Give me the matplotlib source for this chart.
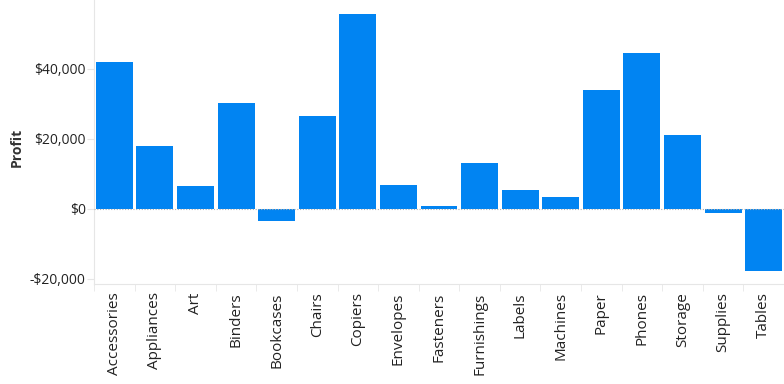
import numpy as np
import matplotlib
matplotlib.use('Agg')
import matplotlib.pyplot as plt
from matplotlib.ticker import FuncFormatter

plt.rcParams['font.family'] = ['Open Sans', 'DejaVu Sans']

# Данные: прибыль по подкатегориям
categories = ['Accessories', 'Appliances', 'Art', 'Binders', 'Bookcases', 'Chairs',
              'Copiers', 'Envelopes', 'Fasteners', 'Furnishings', 'Labels', 'Machines',
              'Paper', 'Phones', 'Storage', 'Supplies', 'Tables']
profit = [41937, 18138, 6528, 30222, -3473, 26590, 55618, 6964, 950, 13059,
          5546, 3385, 34053, 44516, 21279, -1189, -17725]
y_ticks = [-20000, 0, 20000, 40000]

fig = plt.figure(figsize=(7.84, 3.84), dpi=100)
ax = fig.add_axes([94 / 784, 100 / 384, 690 / 784, 284 / 384])

x = np.arange(len(categories))
ax.bar(x, profit, width=0.91, color='#0184F2', zorder=2)
ax.axhline(0, color='#b0b0b0', lw=0.8, ls=(0, (1, 1.5)), zorder=3)

ax.set_xlim(-0.5, len(categories) - 0.5)
ax.set_ylim(-21430, 59710)

ax.set_yticks(y_ticks)
ax.yaxis.set_major_formatter(FuncFormatter(
    lambda v, p: ('-$' if v < 0 else '$') + format(abs(int(v)), ',')))
ax.set_xticks(x)
ax.set_xticklabels(categories, rotation=90)
ax.set_xticks(np.arange(-0.5, len(categories)), minor=True)

ax.tick_params(axis='x', which='major', length=0, pad=6, labelsize=11, labelcolor='#222222')
ax.tick_params(axis='x', which='minor', length=5, color='#e6e6e6')
ax.tick_params(axis='y', length=5, color='#e6e6e6', labelsize=10, labelcolor='#222222', pad=1)

fig.text(17 / 784, 1 - 147 / 384, 'Profit', rotation=90, ha='center', va='center',
         fontsize=10, fontweight='bold', color='#333333')

for s in ['top', 'right']:
    ax.spines[s].set_visible(False)
ax.spines['left'].set_color('#e6e6e6')
ax.spines['bottom'].set_color('#e6e6e6')

plt.savefig('out.png', dpi=100)
